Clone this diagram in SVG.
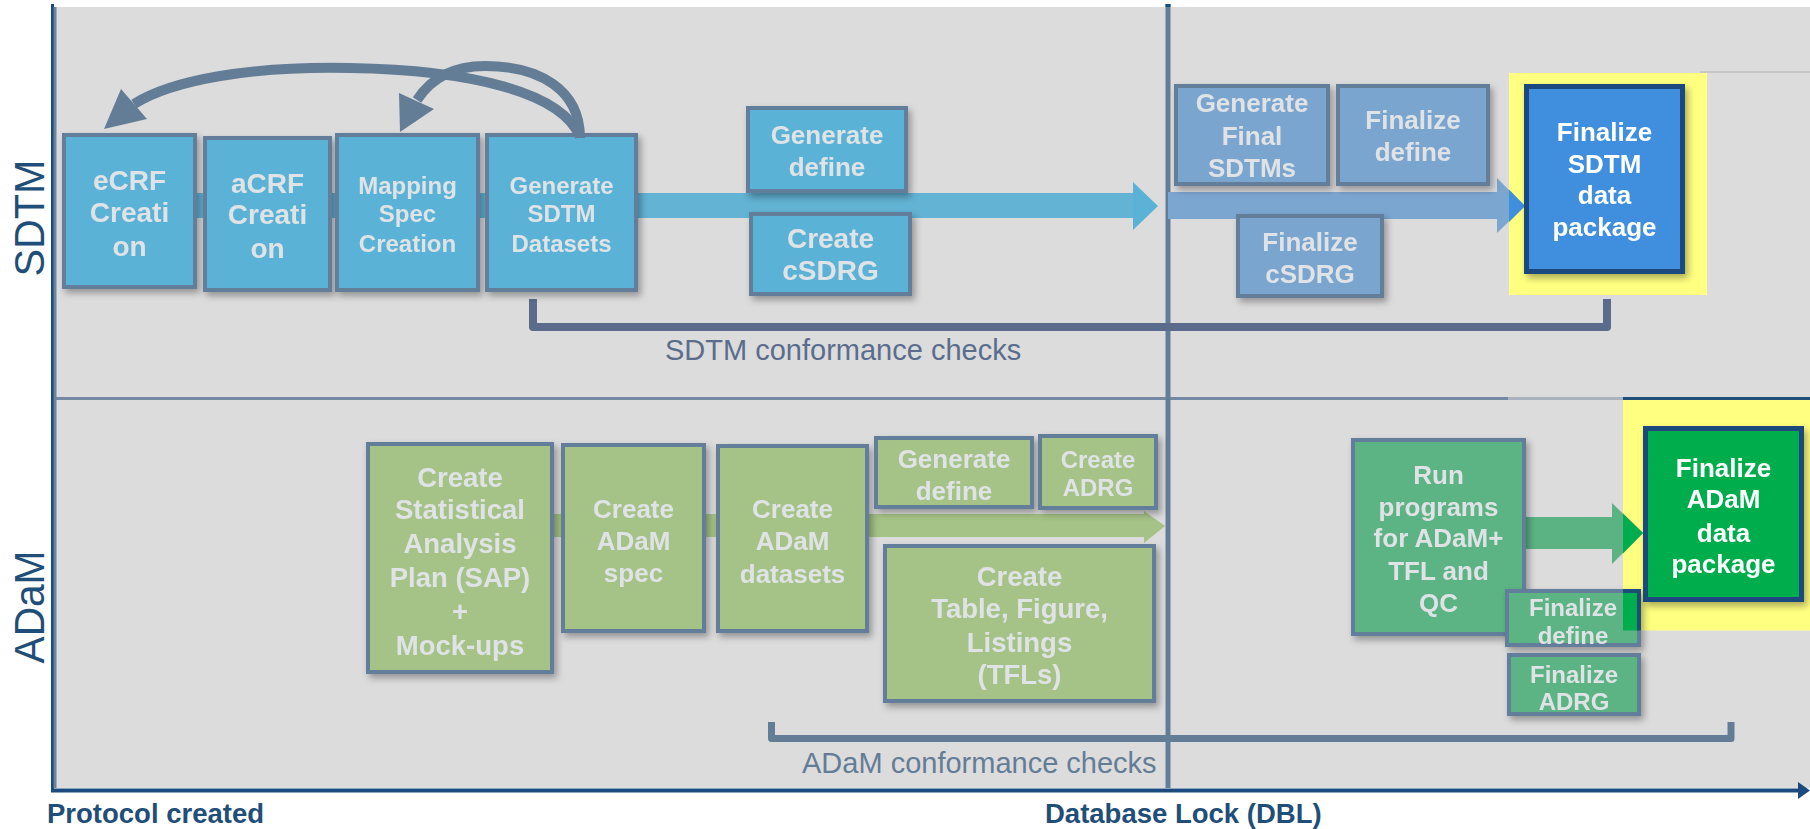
<svg xmlns="http://www.w3.org/2000/svg" width="1810" height="829" viewBox="0 0 1810 829">
  <defs>
    <style>
      .bx { stroke:#647e9b; stroke-width:4; }
      .sd { fill:#5ab3d6; }
      .sf { fill:#7aa5cf; }
      .ag { fill:#a5c386; }
      .rg { fill:#5bb383; }
      .pk { stroke:#1b4a7d; stroke-width:5; }
      .t { font-family:"Liberation Sans", Arial, sans-serif; font-weight:bold; fill:#e0e3e6; text-anchor:middle; }
      .tw { fill:#ffffff; }
      .lane { font-family:"Liberation Sans", Arial, sans-serif; font-size:43px; fill:#1f4e79; text-anchor:middle; }
      .mile { font-family:"Liberation Sans", Arial, sans-serif; font-weight:bold; font-size:27.5px; fill:#1f4e79; }
      .chk { font-family:"Liberation Sans", Arial, sans-serif; font-size:29px; }
      .loop { fill:none; stroke:#647d97; stroke-width:10; }
    </style>
    <filter id="sh" x="-20%" y="-20%" width="150%" height="150%">
      <feDropShadow dx="3" dy="4" stdDeviation="3.5" flood-color="#000" flood-opacity="0.33"/>
    </filter>
    <clipPath id="adamHi">
      <rect x="1623" y="400" width="187" height="230.5"/>
    </clipPath>
  </defs>

  <!-- swimlane backgrounds -->
  <g id="lanes">
    <rect x="56" y="7" width="1754" height="391" fill="#dcdcdc"/>
    <rect x="56" y="400" width="1754" height="388" fill="#dcdcdc"/>
    <line x1="1700" y1="72" x2="1810" y2="72" stroke="#c6c6c6" stroke-width="2"/>
    <line x1="53" y1="398.5" x2="1508" y2="398.5" stroke="#7589a3" stroke-width="3"/>
    <line x1="1508" y1="398.5" x2="1623" y2="398.5" stroke="#a9b3bf" stroke-width="3"/>
    <line x1="1623" y1="398.5" x2="1810" y2="398.5" stroke="#1f4e79" stroke-width="3"/>
    <!-- highlight areas behind the final packages -->
    <rect x="1509" y="73" width="198" height="222" fill="#ffff80"/>
    <rect x="1623" y="400" width="187" height="230.5" fill="#ffff80"/>
    <!-- timeline axes -->
    <rect x="51" y="4" width="3" height="787" fill="#1a4a7e"/>
    <rect x="53.5" y="7" width="3" height="781" fill="#6a84a0"/>
    <rect x="1165.5" y="4" width="5" height="784" fill="#647d97"/>
    <rect x="1165.5" y="4" width="5" height="3" fill="#1a4a7e"/>
    <line x1="51" y1="790.5" x2="1800" y2="790.5" stroke="#1a4a7e" stroke-width="4"/>
    <polygon points="1798,782 1810,790.5 1798,799" fill="#1a4a7e"/>
  </g>

  <!-- lane titles and milestones -->
  <g id="labels">
    <text class="lane" transform="translate(44,218) rotate(-90)" textLength="117" lengthAdjust="spacingAndGlyphs">SDTM</text>
    <text class="lane" transform="translate(44,607) rotate(-90)" textLength="113" lengthAdjust="spacingAndGlyphs">ADaM</text>
    <text class="mile" x="47" y="823">Protocol created</text>
    <text class="mile" x="1045" y="823">Database Lock (DBL)</text>
    <text class="chk" x="665" y="360" fill="#5b6d8c">SDTM conformance checks</text>
    <text class="chk" x="802" y="773" fill="#647d97">ADaM conformance checks</text>
  </g>

  <!-- flow arrows and conformance brackets -->
  <g id="connectors">
    <rect x="62" y="193" width="1072" height="25" fill="#62b3d4"/>
    <polygon points="1133,182 1158,206 1133,230" fill="#5ab3d6"/>
    <rect x="1168" y="192" width="330" height="27" fill="#7ba6d0"/>
    <polygon points="1497,178 1525,206 1497,233" fill="#7ba6d0"/>
    <polygon points="1509,189.6 1525,206 1509,222" fill="#3f8fdf"/>
    <rect x="366" y="514" width="779" height="23" fill="#a5c386"/>
    <polygon points="1144,511 1165,526 1144,543" fill="#a5c386"/>
    <rect x="1526" y="517" width="87" height="32" fill="#5bb383"/>
    <polygon points="1612,503 1643,533 1612,564" fill="#5bb383"/>
    <polygon points="1623,513.6 1643,533 1623,553.5" fill="#00ad4e"/>
    <path d="M533,299 V327 H1607 V299" fill="none" stroke="#5a6b8c" stroke-width="8" stroke-linejoin="round"/>
    <path d="M771.5,722 V738.5 H1731 V722" fill="none" stroke="#647d97" stroke-width="7" stroke-linejoin="round"/>
  </g>

  <!-- SDTM lane -->
  <g id="ecrf" filter="url(#sh)">
    <rect class="bx sd" x="64" y="135" width="131" height="152"/>
    <text class="t" font-size="28" x="129.5" y="190">eCRF</text>
    <text class="t" font-size="28" x="129.5" y="222">Creati</text>
    <text class="t" font-size="28" x="129.5" y="256">on</text>
  </g>
  <g id="acrf" filter="url(#sh)">
    <rect class="bx sd" x="205" y="138" width="125" height="152"/>
    <text class="t" font-size="28" x="267.5" y="192.5">aCRF</text>
    <text class="t" font-size="28" x="267.5" y="224">Creati</text>
    <text class="t" font-size="28" x="267.5" y="258">on</text>
  </g>
  <g id="mapping-spec" filter="url(#sh)">
    <rect class="bx sd" x="337" y="135" width="141" height="155"/>
    <text class="t" font-size="24" x="407.5" y="194">Mapping</text>
    <text class="t" font-size="24" x="407.5" y="222">Spec</text>
    <text class="t" font-size="24" x="407.5" y="251.5">Creation</text>
  </g>
  <g id="generate-sdtm" filter="url(#sh)">
    <rect class="bx sd" x="487" y="135" width="149" height="155"/>
    <text class="t" font-size="24" x="561.5" y="194">Generate</text>
    <text class="t" font-size="24" x="561.5" y="222">SDTM</text>
    <text class="t" font-size="24" x="561.5" y="251.5">Datasets</text>
  </g>
  <g id="generate-define-sdtm" filter="url(#sh)">
    <rect class="bx sd" x="748" y="108" width="158" height="83"/>
    <text class="t" font-size="26" x="827" y="144">Generate</text>
    <text class="t" font-size="26" x="827" y="176">define</text>
  </g>
  <g id="create-csdrg" filter="url(#sh)">
    <rect class="bx sd" x="751" y="214" width="159" height="80"/>
    <text class="t" font-size="28" x="830.5" y="248">Create</text>
    <text class="t" font-size="28" x="830.5" y="280">cSDRG</text>
  </g>
  <g id="generate-final-sdtms" filter="url(#sh)">
    <rect class="bx sf" x="1176" y="86" width="152" height="98"/>
    <text class="t" font-size="26" x="1252" y="112">Generate</text>
    <text class="t" font-size="26" x="1252" y="145">Final</text>
    <text class="t" font-size="26" x="1252" y="176.5">SDTMs</text>
  </g>
  <g id="finalize-define-sdtm" filter="url(#sh)">
    <rect class="bx sf" x="1338" y="86" width="150" height="98"/>
    <text class="t" font-size="26" x="1413" y="128.5">Finalize</text>
    <text class="t" font-size="26" x="1413" y="161">define</text>
  </g>
  <g id="finalize-csdrg" filter="url(#sh)">
    <rect class="bx sf" x="1238" y="216" width="144" height="80"/>
    <text class="t" font-size="26" x="1310" y="250.5">Finalize</text>
    <text class="t" font-size="26" x="1310" y="282.5">cSDRG</text>
  </g>
  <g id="finalize-sdtm-package" filter="url(#sh)">
    <rect class="pk" x="1526.5" y="86.5" width="156" height="185" fill="#3f8fdf"/>
    <text class="t tw" font-size="26" x="1604.5" y="140.5">Finalize</text>
    <text class="t tw" font-size="26" x="1604.5" y="173">SDTM</text>
    <text class="t tw" font-size="26" x="1604.5" y="204">data</text>
    <text class="t tw" font-size="26" x="1604.5" y="236">package</text>
  </g>

  <!-- ADaM lane -->
  <g id="create-sap" filter="url(#sh)">
    <rect class="bx ag" x="368" y="444" width="184" height="228"/>
    <text class="t" font-size="27.5" x="460" y="487">Create</text>
    <text class="t" font-size="27.5" x="460" y="519">Statistical</text>
    <text class="t" font-size="27.5" x="460" y="553">Analysis</text>
    <text class="t" font-size="27.5" x="460" y="587">Plan (SAP)</text>
    <text class="t" font-size="27.5" x="460" y="621">+</text>
    <text class="t" font-size="27.5" x="460" y="655">Mock-ups</text>
  </g>
  <g id="create-adam-spec" filter="url(#sh)">
    <rect class="bx ag" x="563" y="445" width="141" height="186"/>
    <text class="t" font-size="26" x="633.5" y="518">Create</text>
    <text class="t" font-size="26" x="633.5" y="550">ADaM</text>
    <text class="t" font-size="26" x="633.5" y="582">spec</text>
  </g>
  <g id="create-adam-datasets" filter="url(#sh)">
    <rect class="bx ag" x="718" y="446" width="149" height="185"/>
    <text class="t" font-size="26" x="792.5" y="518">Create</text>
    <text class="t" font-size="26" x="792.5" y="550">ADaM</text>
    <text class="t" font-size="26" x="792.5" y="582.5">datasets</text>
  </g>
  <g id="generate-define-adam" filter="url(#sh)">
    <rect class="bx ag" x="876" y="438" width="156" height="69"/>
    <text class="t" font-size="26" x="954" y="468">Generate</text>
    <text class="t" font-size="26" x="954" y="500">define</text>
  </g>
  <g id="create-adrg" filter="url(#sh)">
    <rect class="bx ag" x="1040" y="436" width="116" height="72"/>
    <text class="t" font-size="24" x="1098" y="468">Create</text>
    <text class="t" font-size="24" x="1098" y="496">ADRG</text>
  </g>
  <g id="create-tfls" filter="url(#sh)">
    <rect class="bx ag" x="885" y="546" width="269" height="155"/>
    <text class="t" font-size="27.5" x="1019.5" y="586">Create</text>
    <text class="t" font-size="27.5" x="1019.5" y="618">Table, Figure,</text>
    <text class="t" font-size="27.5" x="1019.5" y="652">Listings</text>
    <text class="t" font-size="27.5" x="1019.5" y="684">(TFLs)</text>
  </g>
  <g id="run-programs" filter="url(#sh)">
    <rect class="bx rg" x="1353" y="440" width="171" height="194"/>
    <text class="t" font-size="26" x="1438.5" y="484">Run</text>
    <text class="t" font-size="26" x="1438.5" y="516">programs</text>
    <text class="t" font-size="26" x="1438.5" y="547">for ADaM+</text>
    <text class="t" font-size="26" x="1438.5" y="580">TFL and</text>
    <text class="t" font-size="26" x="1438.5" y="611.5">QC</text>
  </g>
  <g id="finalize-define-adam" filter="url(#sh)">
    <rect class="bx rg" x="1507" y="591" width="132" height="54"/>
    <rect x="1507" y="591" width="132" height="54" fill="#00ad4e" stroke="#1f4e79" stroke-width="4" clip-path="url(#adamHi)"/>
    <text class="t" font-size="24" x="1573" y="616">Finalize</text>
    <text class="t" font-size="24" x="1573" y="644">define</text>
  </g>
  <g id="finalize-adrg" filter="url(#sh)">
    <rect class="bx rg" x="1509" y="655" width="130" height="59"/>
    <text class="t" font-size="24" x="1574" y="682.5">Finalize</text>
    <text class="t" font-size="24" x="1574" y="710">ADRG</text>
  </g>
  <g id="finalize-adam-package" filter="url(#sh)">
    <rect class="pk" x="1645.5" y="428.5" width="156" height="171" fill="#00ad4e"/>
    <text class="t tw" font-size="26" x="1723.5" y="477">Finalize</text>
    <text class="t tw" font-size="26" x="1723.5" y="508">ADaM</text>
    <text class="t tw" font-size="26" x="1723.5" y="541.5">data</text>
    <text class="t tw" font-size="26" x="1723.5" y="573">package</text>
  </g>

  <!-- rework loops back from dataset generation -->
  <g id="connectors-loops">
    <path class="loop" d="M580,137 C562,92 470,70 350,68 C250,66 172,80 134,104"/>
    <polygon points="104,129 121,89 147,119" fill="#647d97"/>
    <path class="loop" d="M580,138 C580,90 540,66 485,66 C452,66 430,80 417,100"/>
    <polygon points="400,132 399,93 434,109" fill="#647d97"/>
  </g>
</svg>
